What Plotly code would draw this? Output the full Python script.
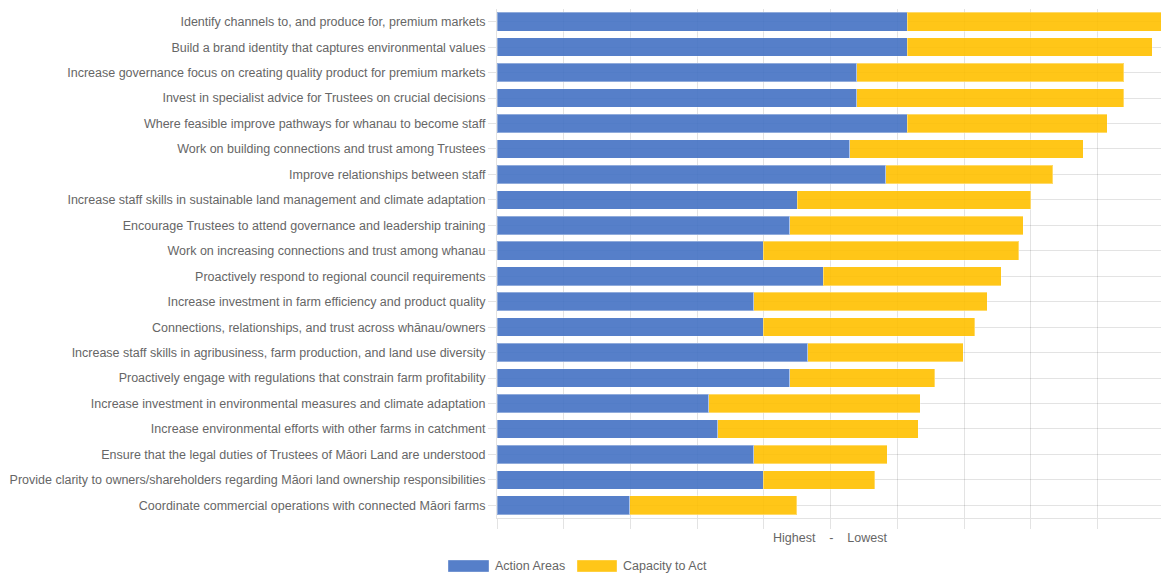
import plotly.graph_objects as go

# Action areas, listed top to bottom
categories = [
    "Identify channels to, and produce for, premium markets",
    "Build a brand identity that captures environmental values",
    "Increase governance focus on creating quality product for premium markets",
    "Invest in specialist advice for Trustees on crucial decisions",
    "Where feasible improve pathways for whanau to become staff",
    "Work on building connections and trust among Trustees",
    "Improve relationships between staff",
    "Increase staff skills in sustainable land management and climate adaptation",
    "Encourage Trustees to attend governance and leadership training",
    "Work on increasing connections and trust among whanau",
    "Proactively respond to regional council requirements",
    "Increase investment in farm efficiency and product quality",
    "Connections, relationships, and trust across whānau/owners",
    "Increase staff skills in agribusiness, farm production, and land use diversity",
    "Proactively engage with regulations that constrain farm profitability",
    "Increase investment in environmental measures and climate adaptation",
    "Increase environmental efforts with other farms in catchment",
    "Ensure that the legal duties of Trustees of Māori Land are understood",
    "Provide clarity to owners/shareholders regarding Māori land ownership responsibilities",
    "Coordinate commercial operations with connected Māori farms",
]

action_areas = [6.15, 6.15, 5.39, 5.39, 6.15, 5.29, 5.83, 4.50, 4.39, 3.99,
                4.89, 3.85, 3.99, 4.66, 4.39, 3.17, 3.31, 3.85, 3.99, 1.99]
capacity_to_act = [3.85, 3.67, 4.00, 4.00, 3.00, 3.50, 2.50, 3.50, 3.50, 3.83,
                   2.67, 3.50, 3.17, 2.33, 2.17, 3.17, 3.00, 2.00, 1.67, 2.50]

series_names = ["Action Areas", "Capacity to Act"]
series_colors = ["#4472C4", "#FFC000"]

W, H = 1161, 574
M_L, M_R, M_T, M_B = 497, 0, 9, 56
plot_w = W - M_L - M_R
plot_h = H - M_T - M_B
unit_px = 66.72


def px_x(px):
    return (px - M_L) / plot_w


def px_y(py):
    return (H - M_B - py) / plot_h


fig = go.Figure()
for name, vals, col in zip(series_names, [action_areas, capacity_to_act], series_colors):
    fig.add_trace(go.Bar(
        y=categories, x=vals, name=name, orientation="h",
        marker=dict(color=col, opacity=0.9,
                    line=dict(color="rgba(255,255,255,0.35)", width=1)),
        showlegend=False,
    ))

grid = "rgba(0,0,0,0.11)"
font = dict(family="Liberation Sans, Arial, sans-serif", size=12.5, color="#666666")

fig.update_layout(
    template="none",
    width=W, height=H,
    margin=dict(l=M_L, r=M_R, t=M_T, b=M_B, autoexpand=False),
    barmode="stack",
    bargap=0.27,
    paper_bgcolor="white",
    plot_bgcolor="white",
    font=font,
    xaxis=dict(
        range=[0, plot_w / unit_px], dtick=1, tick0=0,
        showgrid=True, gridcolor=grid, gridwidth=1,
        zeroline=False, showticklabels=False,
        ticks="outside", ticklen=10, tickcolor=grid, tickwidth=1,
        showline=True, linecolor=grid, linewidth=1,
        automargin=False,
    ),
    yaxis=dict(
        autorange="reversed",
        showgrid=True, gridcolor=grid, gridwidth=1,
        ticks="outside", ticklen=8, tickcolor=grid, tickwidth=1,
        showline=True, linecolor=grid, linewidth=1,
        tickfont=font,
        automargin=False,
    ),
)

# x-axis title
fig.add_annotation(
    text="Highest\u00a0\u00a0\u00a0\u00a0-\u00a0\u00a0\u00a0\u00a0Lowest",
    xref="paper", yref="paper", x=px_x(830), y=px_y(538),
    xanchor="center", yanchor="middle", showarrow=False, font=font,
)

# legend: wide colour boxes followed by labels
legend_items = [(448, 489, 493), (577, 617, 621)]
for (bx0, bx1, tx), name, col in zip(legend_items, series_names, series_colors):
    fig.add_shape(type="rect", xref="paper", yref="paper",
                  x0=px_x(bx0), x1=px_x(bx1), y0=px_y(560), y1=px_y(572),
                  fillcolor=col, opacity=0.9,
                  line=dict(color="rgba(255,255,255,0.35)", width=1))
    fig.add_annotation(text=name, xref="paper", yref="paper",
                       x=px_x(tx), y=px_y(566), xanchor="left", yanchor="middle",
                       showarrow=False, font=font)

fig.write_html("out.html")
